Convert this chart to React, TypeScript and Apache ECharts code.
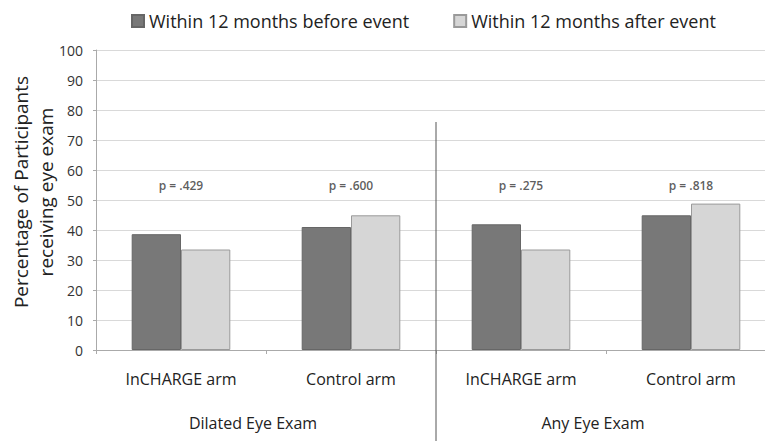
import React, { useEffect, useRef } from "react";
import * as echarts from "echarts";

const categories = ["InCHARGE arm", "Control arm", "InCHARGE arm", "Control arm"];
const groups = ["Dilated Eye Exam", "Any Eye Exam"];
const seriesNames = ["Within 12 months before event", "Within 12 months after event"];
const beforeValues = [38.6, 41.0, 41.9, 44.9];
const afterValues = [33.5, 44.9, 33.5, 48.8];
const pLabels = ["p = .429", "p = .600", "p = .275", "p = .818"];
const pLabelY = [55, 55, 55, 55];
const yTicks = { min: 0, max: 100, interval: 10 };

const FONT = "'Open Sans', 'Noto Sans', sans-serif";

export default function App() {
  const ref = useRef<HTMLDivElement>(null);
  useEffect(() => {
    if (!ref.current) return;
    const chart = echarts.init(ref.current, undefined, { renderer: "svg" });
    const gridLeft = 96;
    const gridTop = 50;
    const gridWidth = 680;
    const gridHeight = 300;
    const dividerX = gridLeft + (gridWidth / categories.length) * 2;
    chart.setOption({
      animation: false,
      backgroundColor: "#ffffff",
      textStyle: { fontFamily: FONT },
      legend: {
        data: seriesNames,
        left: 126,
        top: 7,
        itemWidth: 12,
        itemHeight: 12,
        itemGap: 44,
        icon: "rect",
        textStyle: { fontSize: 18, color: "#222", fontFamily: FONT },
      },
      grid: {
        left: gridLeft,
        top: gridTop,
        width: gridWidth,
        height: gridHeight,
        containLabel: false,
        outerBoundsMode: "none",
      },
      xAxis: [
        {
          type: "category",
          data: categories,
          axisLine: { lineStyle: { color: "#aaa" } },
          axisTick: { show: true, length: 4, lineStyle: { color: "#aaa" } },
          axisLabel: { fontSize: 16, color: "#222", margin: 21, fontFamily: FONT },
        },
        {
          type: "category",
          data: groups,
          position: "bottom",
          gridIndex: 0,
          axisLine: { show: false },
          axisTick: { show: false },
          axisLabel: {
            fontSize: 16,
            color: "#222",
            margin: 65,
            padding: [0, 26, 0, 0],
            fontFamily: FONT,
          },
        },
      ],
      yAxis: {
        type: "value",
        min: yTicks.min,
        max: yTicks.max,
        interval: yTicks.interval,
        name: "Percentage of Participants\nreceiving eye exam",
        nameLocation: "middle",
        nameGap: 38,
        nameMoveOverlap: false,
        nameTextStyle: {
          fontSize: 19,
          color: "#222",
          lineHeight: 25,
          padding: [0, 0, 0, 16],
          fontFamily: FONT,
        },
        axisLine: { show: true, lineStyle: { color: "#aaa" } },
        axisTick: { show: true, length: 3, lineStyle: { color: "#aaa" } },
        axisLabel: { fontSize: 14, color: "#333", margin: 13, fontFamily: FONT },
        splitLine: { lineStyle: { color: "#d9d9d9" } },
      },
      series: [
        {
          name: seriesNames[0],
          type: "bar",
          data: beforeValues,
          barGap: "0%",
          barCategoryGap: "42%",
          itemStyle: { color: "#787878", borderColor: "#666", borderWidth: 1 },
        },
        {
          name: seriesNames[1],
          type: "bar",
          data: afterValues,
          itemStyle: { color: "#d6d6d6", borderColor: "#9a9a9a", borderWidth: 1 },
        },
        {
          name: "p",
          type: "scatter",
          symbolSize: 0,
          data: pLabelY.map((v, i) => [i, v]),
          label: {
            show: true,
            position: "inside",
            formatter: (p: any) => pLabels[p.dataIndex],
            fontSize: 12,
            fontWeight: 600,
            color: "#333",
            fontFamily: FONT,
          },
          tooltip: { show: false },
        },
      ],
      graphic: [
        {
          type: "line",
          shape: { x1: dividerX, y1: 122, x2: dividerX, y2: 441 },
          style: { stroke: "#555", lineWidth: 1 },
          z: 10,
        },
      ],
    });
    return () => chart.dispose();
  }, []);
  return (
    <div
      ref={ref}
      style={{ position: "absolute", left: 0, top: 0, width: 765, height: 441 }}
    />
  );
}
